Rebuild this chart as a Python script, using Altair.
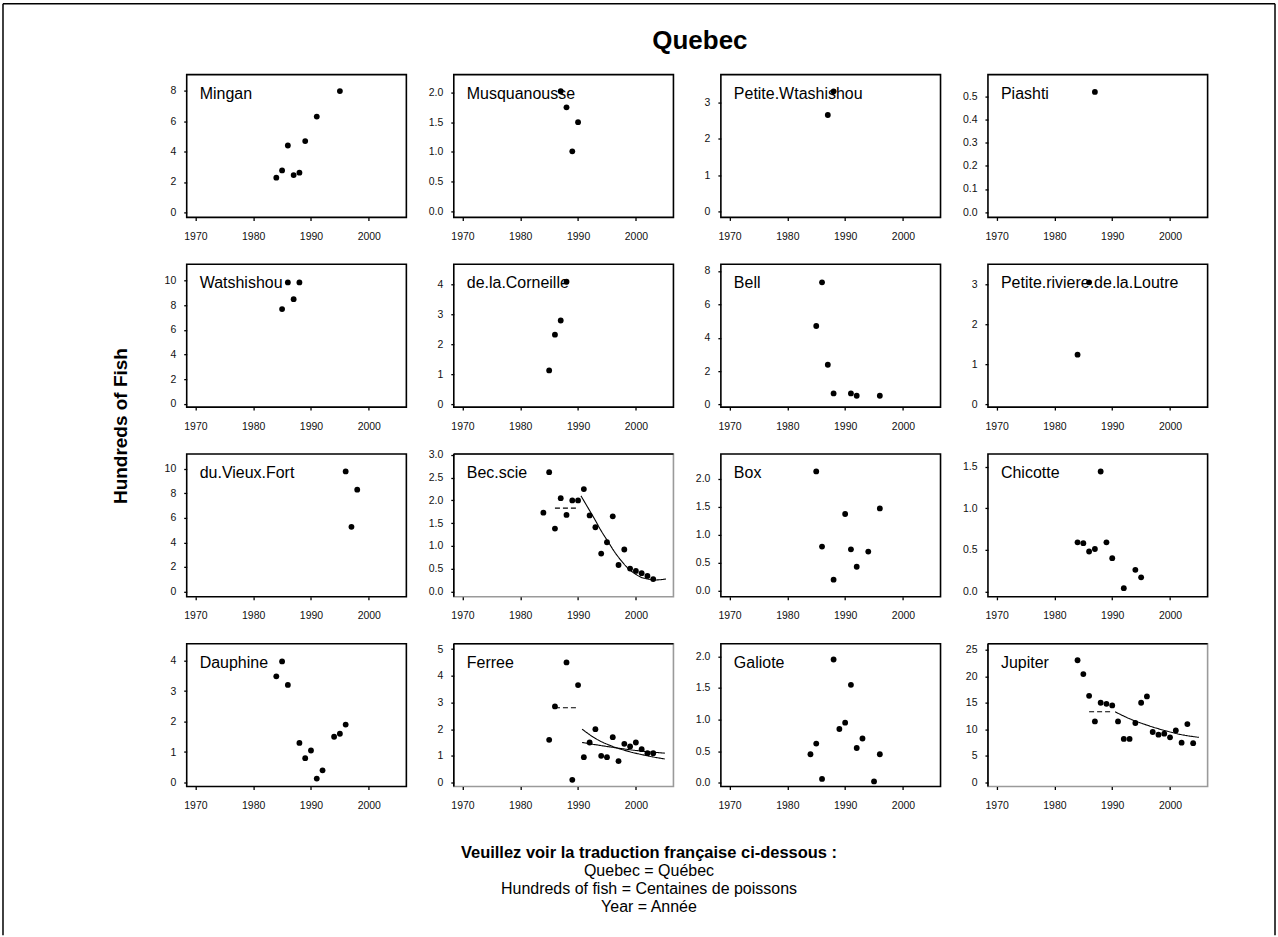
import altair as alt
import pandas as pd

# ---- survey counts (hundreds of fish) per river ----
MINGAN_YEAR = [1984, 1985, 1986, 1987, 1988, 1989, 1991, 1995]
MINGAN_FISH = [2.28, 2.76, 4.40, 2.45, 2.61, 4.69, 6.30, 7.98]

MUSQUANOUSSE_YEAR = [1987, 1988, 1989, 1990]
MUSQUANOUSSE_FISH = [2.02, 1.75, 1.01, 1.50]

PETITE_WTASHISHOU_YEAR = [1987, 1988]
PETITE_WTASHISHOU_FISH = [2.65, 3.30]

PIASHTI_YEAR = [1987]
PIASHTI_FISH = [0.52]

WATSHISHOU_YEAR = [1985, 1986, 1987, 1988]
WATSHISHOU_FISH = [7.69, 9.86, 8.50, 9.86]

CORNEILLE_YEAR = [1985, 1986, 1987, 1988]
CORNEILLE_FISH = [1.13, 2.32, 2.79, 4.08]

BELL_YEAR = [1985, 1986, 1987, 1988, 1991, 1992, 1996]
BELL_FISH = [4.70, 7.32, 2.38, 0.66, 0.66, 0.52, 0.52]

LOUTRE_YEAR = [1984, 1986]
LOUTRE_FISH = [1.24, 3.05]

VIEUX_FORT_YEAR = [1996, 1997, 1998]
VIEUX_FORT_FISH = [9.78, 5.27, 8.30]

BEC_SCIE_YEAR = [1984, 1985, 1986, 1987, 1988, 1989, 1990, 1991, 1992, 1993,
                 1994, 1995, 1996, 1997, 1998, 1999, 2000, 2001, 2002, 2003]
BEC_SCIE_FISH = [1.73, 2.62, 1.38, 2.05, 1.68, 2.00, 2.00, 2.25, 1.67, 1.41,
                 0.83, 1.08, 1.65, 0.58, 0.92, 0.50, 0.45, 0.40, 0.34, 0.27]
BEC_SCIE_MEAN_YEAR = [1986, 1990]
BEC_SCIE_MEAN_FISH = [1.83, 1.83]
BEC_SCIE_FIT_YEAR = [1990.5, 1991.75, 1992.9, 1994.0, 1995.2, 1996.3, 1997.5,
                     1998.6, 1999.8, 2000.9, 2002.1, 2003.2, 2005.2]
BEC_SCIE_FIT_FISH = [2.10, 1.83, 1.58, 1.33, 1.09, 0.87, 0.67,
                     0.51, 0.39, 0.31, 0.27, 0.25, 0.27]

BOX_YEAR = [1985, 1986, 1988, 1990, 1991, 1992, 1994, 1996]
BOX_FISH = [2.13, 0.79, 0.20, 1.37, 0.74, 0.43, 0.70, 1.47]

CHICOTTE_YEAR = [1984, 1985, 1986, 1987, 1988, 1989, 1990, 1992, 1994, 1995]
CHICOTTE_FISH = [0.59, 0.58, 0.48, 0.51, 1.44, 0.59, 0.40, 0.04, 0.26, 0.17]

DAUPHINE_YEAR = [1984, 1985, 1986, 1988, 1989, 1990, 1991, 1992, 1994, 1995, 1996]
DAUPHINE_FISH = [3.48, 3.97, 3.20, 1.30, 0.80, 1.05, 0.13, 0.40, 1.50, 1.60, 1.90]

FERREE_YEAR = [1985, 1986, 1988, 1989, 1990, 1991, 1992, 1993, 1994, 1995,
               1996, 1997, 1998, 1999, 2000, 2001, 2002, 2003]
FERREE_FISH = [1.60, 2.85, 4.50, 0.10, 3.65, 0.95, 1.50, 2.00, 1.00, 0.95,
               1.70, 0.80, 1.45, 1.35, 1.50, 1.25, 1.10, 1.10]
FERREE_MEAN_YEAR = [1986, 1990]
FERREE_MEAN_FISH = [2.80, 2.80]
FERREE_FIT_YEAR = [1990.7, 1993.0, 1996.0, 1999.0, 2002.0, 2005.0]
FERREE_FIT_FISH = [2.00, 1.65, 1.35, 1.15, 1.00, 0.88]
FERREE_FIT2_YEAR = [1990.7, 1995.0, 2000.0, 2005.0]
FERREE_FIT2_FISH = [1.50, 1.35, 1.20, 1.10]

GALIOTE_YEAR = [1984, 1985, 1986, 1988, 1989, 1990, 1991, 1992, 1993, 1995, 1996]
GALIOTE_FISH = [0.45, 0.62, 0.06, 1.95, 0.85, 0.95, 1.55, 0.55, 0.70, 0.02, 0.45]

JUPITER_YEAR = [1984, 1985, 1986, 1987, 1988, 1989, 1990, 1991, 1992, 1993,
                1994, 1995, 1996, 1997, 1998, 1999, 2000, 2001, 2002, 2003, 2004]
JUPITER_FISH = [23.0, 20.4, 16.3, 11.5, 15.0, 14.8, 14.5, 11.5, 8.2, 8.2,
                11.2, 15.0, 16.2, 9.5, 9.0, 9.2, 8.5, 9.8, 7.5, 11.0, 7.4]
JUPITER_MEAN_YEAR = [1986, 1990]
JUPITER_MEAN_FISH = [13.3, 13.3]
JUPITER_FIT_YEAR = [1990.5, 1993.0, 1996.0, 1999.0, 2002.0, 2005.0]
JUPITER_FIT_FISH = [13.3, 12.0, 10.8, 9.8, 9.0, 8.5]

TITLE = "Quebec"
Y_TITLE = "Hundreds of Fish"
NOTE_HEAD = "Veuillez voir la traduction française ci-dessous :"
NOTE_LINES = ["Quebec = Québec", "Hundreds of fish = Centaines de poissons", "Year = Année"]

X_TICKS = [1970, 1980, 1990, 2000]
X_LIMITS = [1968.5, 2006.5]

FONT = "Liberation Sans"
W, H = 220, 143

# name, years, counts, y-limits, y-ticks, tick format, extra line layers
PANELS = [
    ("Mingan", MINGAN_YEAR, MINGAN_FISH, [-0.33, 9.06], [0, 2, 4, 6, 8], "d", []),
    ("Musquanousse", MUSQUANOUSSE_YEAR, MUSQUANOUSSE_FISH, [-0.10, 2.30], [0, 0.5, 1, 1.5, 2], ".1f", []),
    ("Petite.Wtashishou", PETITE_WTASHISHOU_YEAR, PETITE_WTASHISHOU_FISH, [-0.165, 3.76], [0, 1, 2, 3], "d", []),
    ("Piashti", PIASHTI_YEAR, PIASHTI_FISH, [-0.023, 0.595], [0, 0.1, 0.2, 0.3, 0.4, 0.5], ".1f", []),
    ("Watshishou", WATSHISHOU_YEAR, WATSHISHOU_FISH, [-0.27, 11.33], [0, 2, 4, 6, 8, 10], "d", []),
    ("de.la.Corneille", CORNEILLE_YEAR, CORNEILLE_FISH, [-0.09, 4.66], [0, 1, 2, 3, 4], "d", []),
    ("Bell", BELL_YEAR, BELL_FISH, [-0.16, 8.4], [0, 2, 4, 6, 8], "d", []),
    ("Petite.riviere.de.la.Loutre", LOUTRE_YEAR, LOUTRE_FISH, [-0.07, 3.5], [0, 1, 2, 3], "d", []),
    ("du.Vieux.Fort", VIEUX_FORT_YEAR, VIEUX_FORT_FISH, [-0.43, 11.2], [0, 2, 4, 6, 8, 10], "d", []),
    ("Bec.scie", BEC_SCIE_YEAR, BEC_SCIE_FISH, [-0.12, 3.02], [0, 0.5, 1, 1.5, 2, 2.5, 3], ".1f",
     [(BEC_SCIE_MEAN_YEAR, BEC_SCIE_MEAN_FISH, True), (BEC_SCIE_FIT_YEAR, BEC_SCIE_FIT_FISH, False)]),
    ("Box", BOX_YEAR, BOX_FISH, [-0.106, 2.44], [0, 0.5, 1, 1.5, 2], ".1f", []),
    ("Chicotte", CHICOTTE_YEAR, CHICOTTE_FISH, [-0.064, 1.65], [0, 0.5, 1, 1.5], ".1f", []),
    ("Dauphine", DAUPHINE_YEAR, DAUPHINE_FISH, [-0.13, 4.55], [0, 1, 2, 3, 4], "d", []),
    ("Ferree", FERREE_YEAR, FERREE_FISH, [-0.15, 5.2], [0, 1, 2, 3, 4, 5], "d",
     [(FERREE_MEAN_YEAR, FERREE_MEAN_FISH, True), (FERREE_FIT_YEAR, FERREE_FIT_FISH, False),
      (FERREE_FIT2_YEAR, FERREE_FIT2_FISH, False)]),
    ("Galiote", GALIOTE_YEAR, GALIOTE_FISH, [-0.06, 2.2], [0, 0.5, 1, 1.5, 2], ".1f", []),
    ("Jupiter", JUPITER_YEAR, JUPITER_FISH, [-0.74, 26.1], [0, 5, 10, 15, 20, 25], "d",
     [(JUPITER_MEAN_YEAR, JUPITER_MEAN_FISH, True), (JUPITER_FIT_YEAR, JUPITER_FIT_FISH, False)]),
]


def x_enc():
    return alt.X("year:Q", scale=alt.Scale(domain=X_LIMITS, nice=False, zero=False),
                 axis=alt.Axis(values=X_TICKS, format="d", title=None, labelPadding=11))


def y_enc(ylim, ticks, fmt):
    return alt.Y("fish:Q", scale=alt.Scale(domain=ylim, nice=False, zero=False),
                 axis=alt.Axis(values=ticks, format=fmt, title=None, labelPadding=8))


def panel(name, yrs, vals, ylim, ticks, fmt, lines):
    pts = alt.Chart(pd.DataFrame({"year": yrs, "fish": vals})).mark_circle(
        size=34, color="black", opacity=1
    ).encode(x=x_enc(), y=y_enc(ylim, ticks, fmt))
    layers = [pts]
    for lx, ly, dashed in lines:
        ln = alt.Chart(pd.DataFrame({"year": lx, "fish": ly})).mark_line(
            color="black", strokeWidth=1.1, strokeDash=[5, 3] if dashed else [1, 0],
            interpolate="monotone",
        ).encode(x=x_enc(), y=y_enc(ylim, ticks, fmt))
        layers.append(ln)
    lab = alt.Chart(pd.DataFrame({"label": [name]})).mark_text(
        align="left", baseline="alphabetic", fontSize=16, font=FONT, color="black"
    ).encode(x=alt.value(13), y=alt.value(24), text="label:N")
    layers.append(lab)
    return layers


def text_at(s, x, y, size, weight="normal", angle=0):
    return alt.Chart(pd.DataFrame({"t": [s]})).mark_text(
        fontSize=size, fontWeight=weight, font=FONT, align="center",
        baseline="middle", angle=angle, color="black"
    ).encode(x=alt.value(x), y=alt.value(y), text="t:N")


def frame_and_text():
    one = pd.DataFrame({"k": [0]})
    items = [
        alt.Chart(one).mark_rule(color="black", strokeWidth=1.5).encode(
            x=alt.value(-184), y=alt.value(-71), y2=alt.value(862)),
        alt.Chart(one).mark_rule(color="black", strokeWidth=1.5).encode(
            x=alt.value(1090), y=alt.value(-71), y2=alt.value(862)),
        alt.Chart(one).mark_rule(color="black", strokeWidth=1.5).encode(
            x=alt.value(-184), x2=alt.value(1090), y=alt.value(-71)),
        text_at(TITLE, 514, -34, 26, "bold"),
        text_at(Y_TITLE, -66, 352, 19, "bold", 270),
        text_at(NOTE_HEAD, 463, 780, 16.5, "bold"),
    ]
    for k, line in enumerate(NOTE_LINES):
        items.append(text_at(line, 463, 798 + 18 * k, 16))
    return items


def dark_corner():
    # top and left edges stay dark on the panels whose frame is greyed
    one = pd.DataFrame({"k": [0]})
    return [
        alt.Chart(one).mark_rule(color="black", strokeWidth=1.6).encode(
            x=alt.value(0), y=alt.value(0), y2=alt.value(H)),
        alt.Chart(one).mark_rule(color="black", strokeWidth=1.6).encode(
            x=alt.value(0), x2=alt.value(W), y=alt.value(0)),
    ]


GREY_FRAME = {"Bec.scie", "Ferree", "Jupiter"}

charts = []
for i, p in enumerate(PANELS):
    layers = panel(*p)
    if i == 0:
        layers = layers + frame_and_text()
    ch = alt.layer(*layers)
    if p[0] in GREY_FRAME:
        ch = alt.layer(*(layers + dark_corner())).properties(
            view=alt.ViewBackground(stroke="#9a9a9a", strokeWidth=1.6))
    charts.append(ch.properties(width=W, height=H))

chart = alt.concat(*charts, columns=4, spacing={"row": 47, "column": 47.5}, bounds="flush").properties(
    padding={"left": 1, "top": 1, "right": 1, "bottom": 1}
).configure(font=FONT).configure_view(
    stroke="black", strokeWidth=1.6
).configure_axis(
    grid=False, domain=False, ticks=True, tickSize=3, tickWidth=1.3, tickColor="black",
    labelFontSize=10.5, labelColor="#111", labelFont=FONT
)

chart.save("out.html", embed_options={"renderer": "svg", "actions": False})
